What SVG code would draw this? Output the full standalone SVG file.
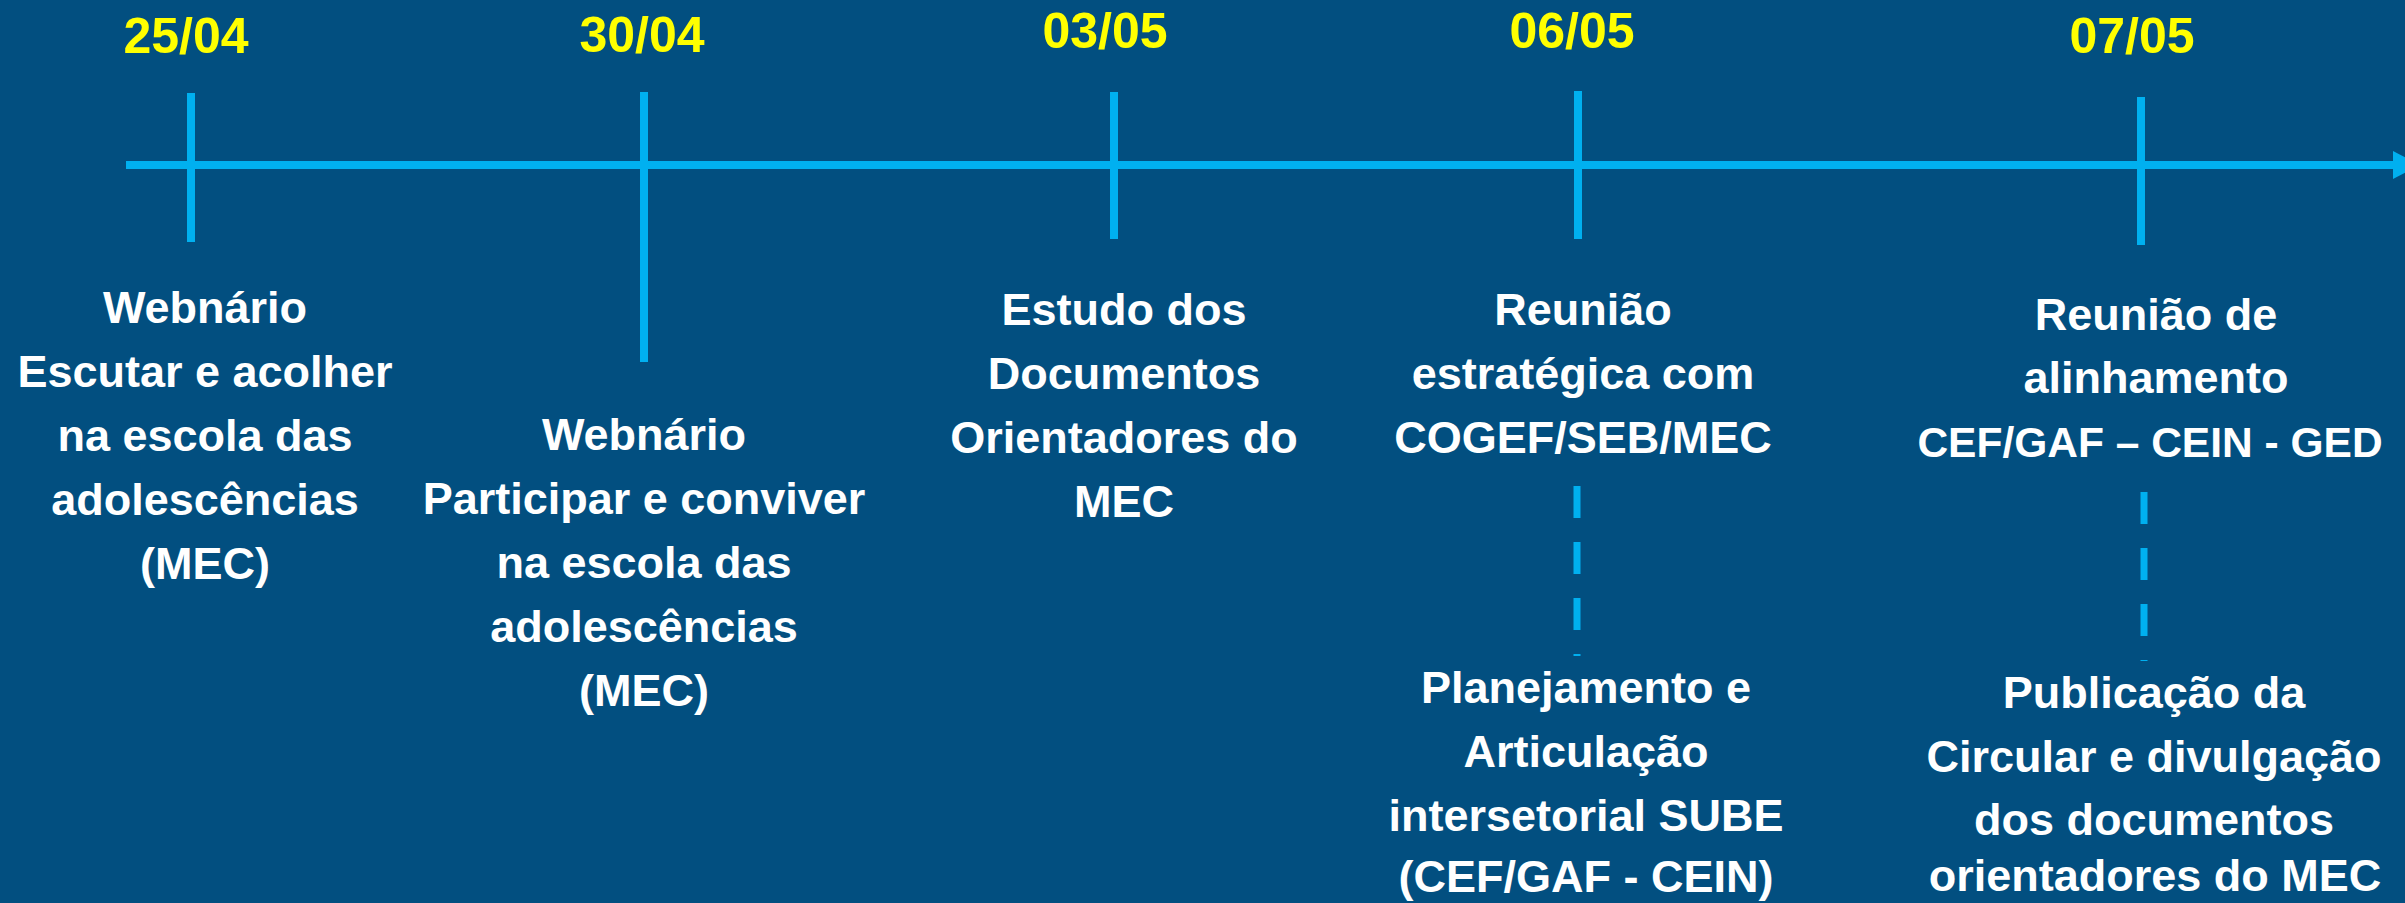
<svg xmlns="http://www.w3.org/2000/svg" width="2405" height="903" viewBox="0 0 2405 903">
<style>
.bg{fill:#024f80}
.axis{stroke:#00b0f0;stroke-width:8;fill:none}
.tick{stroke:#00b0f0;stroke-width:8}
.dash{stroke:#00b0f0;stroke-width:7;stroke-dasharray:32 24}
.date{font-family:"Liberation Sans",Arial,sans-serif;font-weight:bold;font-size:50px;fill:#ffff00;text-anchor:middle}
.lbl{font-family:"Liberation Sans",Arial,sans-serif;font-weight:bold;font-size:45px;fill:#ffffff;text-anchor:middle}
.nar{font-size:42.5px}
</style>
<rect class="bg" x="0" y="0" width="2405" height="903"/>
<g id="connectors">
<line class="axis" x1="126" y1="165" x2="2396" y2="165"/>
<polygon points="2393,151 2420,165 2393,179" fill="#00b0f0"/>
<line class="tick" x1="191" y1="93" x2="191" y2="242"/>
<line class="tick" x1="644" y1="92" x2="644" y2="362"/>
<line class="tick" x1="1114" y1="92" x2="1114" y2="239"/>
<line class="tick" x1="1578" y1="91" x2="1578" y2="239"/>
<line class="tick" x1="2141" y1="97" x2="2141" y2="245"/>
<line class="dash" x1="1577" y1="486" x2="1577" y2="656"/>
<line class="dash" x1="2144" y1="492" x2="2144" y2="661"/>
</g>
<g id="event-2504">
<text class="date" x="186" y="53">25/04</text>
<text class="lbl" x="205" y="323">Webnário</text>
<text class="lbl" x="205" y="387">Escutar e acolher</text>
<text class="lbl" x="205" y="451">na escola das</text>
<text class="lbl" x="205" y="515">adolescências</text>
<text class="lbl" x="205" y="579">(MEC)</text>
</g>
<g id="event-3004">
<text class="date" x="642" y="52">30/04</text>
<text class="lbl" x="644" y="450">Webnário</text>
<text class="lbl" x="644" y="514">Participar e conviver</text>
<text class="lbl" x="644" y="578">na escola das</text>
<text class="lbl" x="644" y="642">adolescências</text>
<text class="lbl" x="644" y="706">(MEC)</text>
</g>
<g id="event-0305">
<text class="date" x="1105" y="48">03/05</text>
<text class="lbl" x="1124" y="325">Estudo dos</text>
<text class="lbl" x="1124" y="389">Documentos</text>
<text class="lbl" x="1124" y="453">Orientadores do</text>
<text class="lbl" x="1124" y="517">MEC</text>
</g>
<g id="event-0605">
<text class="date" x="1572" y="48">06/05</text>
<text class="lbl" x="1583" y="325">Reunião</text>
<text class="lbl" x="1583" y="389">estratégica com</text>
<text class="lbl" x="1583" y="453">COGEF/SEB/MEC</text>
</g>
<g id="event-0605-b">
<text class="lbl" x="1586" y="703">Planejamento e</text>
<text class="lbl" x="1586" y="767">Articulação</text>
<text class="lbl" x="1586" y="831">intersetorial SUBE</text>
<text class="lbl" x="1586" y="892">(CEF/GAF - CEIN)</text>
</g>
<g id="event-0705">
<text class="date" x="2132" y="53">07/05</text>
<text class="lbl" x="2156" y="330">Reunião de</text>
<text class="lbl" x="2156" y="393">alinhamento</text>
<text class="lbl nar" x="2150" y="457">CEF/GAF – CEIN - GED</text>
</g>
<g id="event-0705-b">
<text class="lbl" x="2154" y="708">Publicação da</text>
<text class="lbl" x="2154" y="772">Circular e divulgação</text>
<text class="lbl" x="2154" y="835">dos documentos</text>
<text class="lbl" x="2155" y="891">orientadores do MEC</text>
</g>
</svg>
